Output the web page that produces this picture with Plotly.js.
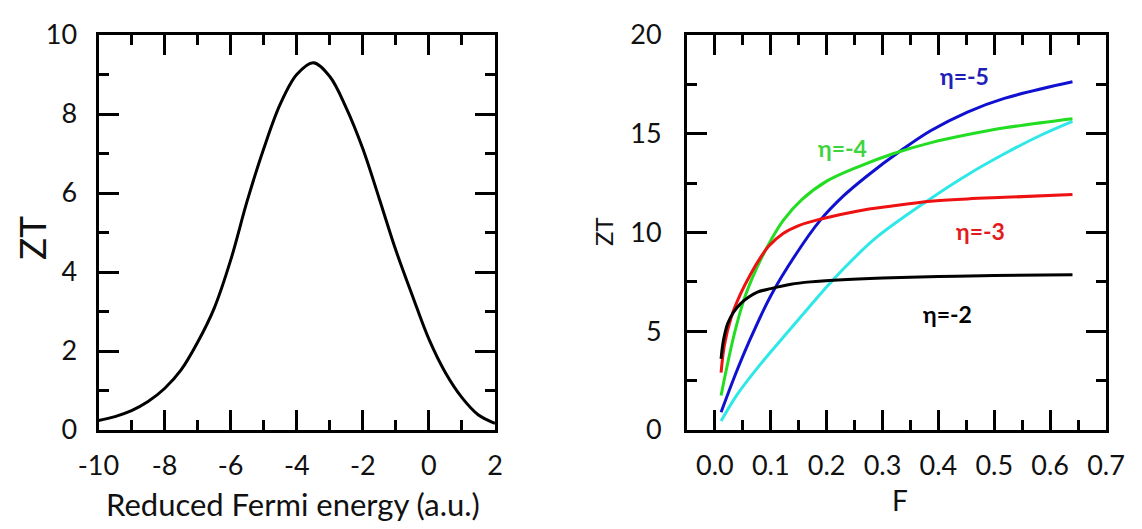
<!DOCTYPE html>
<html>
<head>
<meta charset="utf-8">
<script src="https://cdn.plot.ly/plotly-3.0.1.min.js"></script>
<style>
  html, body { margin: 0; padding: 0; background: #ffffff; }
  #chart { width: 1142px; height: 529px; }
</style>
</head>
<body>
<div id="chart"></div>
<script>
// ---- Left panel: ZT vs reduced Fermi energy ----
const fermiEnergy = [-10, -9.5, -9, -8.5, -8, -7.5, -7, -6.5, -6, -5.5, -5, -4.5, -4, -3.5, -3, -2.5, -2, -1.5, -1, -0.5, 0, 0.5, 1, 1.5, 2];
const ztFermi     = [0.24, 0.34, 0.49, 0.72, 1.05, 1.52, 2.22, 3.08, 4.3, 5.8, 7.12, 8.25, 9.0, 9.3, 8.95, 8.15, 7.12, 5.85, 4.55, 3.4, 2.3, 1.45, 0.82, 0.38, 0.17];
const fermiTickVals = [-10, -8, -6, -4, -2, 0, 2];
const fermiTickText = ["-10", "-8", "-6", "-4", "-2", "0", "2"];
const ztLeftTickVals = [0, 2, 4, 6, 8, 10];
const ztLeftTickText = ["0", "2", "4", "6", "8", "10"];

// ---- Right panel: ZT vs F for several eta ----
const etaLabels = ["η=-2", "η=-3", "η=-4", "η=-5"];

const fEtaM2  = [0.011, 0.015, 0.023, 0.033, 0.046, 0.06, 0.076, 0.1, 0.136, 0.171, 0.22, 0.3, 0.4, 0.5, 0.64];
const ztEtaM2 = [3.6, 4.5, 5.4, 5.95, 6.4, 6.72, 6.98, 7.16, 7.38, 7.5, 7.6, 7.7, 7.77, 7.82, 7.86];

const fEtaM3  = [0.011, 0.017, 0.029, 0.046, 0.064, 0.082, 0.096, 0.122, 0.15, 0.188, 0.254, 0.32, 0.386, 0.452, 0.518, 0.64];
const ztEtaM3 = [2.9, 4.3, 5.7, 6.9, 7.9, 8.75, 9.3, 9.95, 10.35, 10.67, 11.08, 11.35, 11.58, 11.7, 11.78, 11.92];

const fEtaM4  = [0.011, 0.02, 0.035, 0.052, 0.067, 0.085, 0.1, 0.122, 0.155, 0.2, 0.254, 0.32, 0.387, 0.453, 0.519, 0.64];
const ztEtaM4 = [1.75, 3.0, 4.9, 6.6, 7.7, 8.8, 9.6, 10.6, 11.65, 12.6, 13.3, 14.0, 14.55, 14.96, 15.3, 15.76];

const fEtaM5  = [0.011, 0.035, 0.06, 0.1, 0.145, 0.188, 0.23, 0.274, 0.333, 0.386, 0.452, 0.518, 0.64];
const ztEtaM5 = [0.9, 2.7, 4.4, 6.8, 8.9, 10.6, 11.85, 12.9, 14.15, 15.15, 16.1, 16.79, 17.63];

const fCyan   = [0.011, 0.04, 0.082, 0.13, 0.171, 0.205, 0.228, 0.287, 0.38, 0.453, 0.519, 0.585, 0.64];
const ztCyan  = [0.45, 1.8, 3.35, 4.95, 6.3, 7.4, 8.1, 9.7, 11.6, 12.94, 14.0, 14.95, 15.63];

const fTickVals = [0, 0.1, 0.2, 0.3, 0.4, 0.5, 0.6, 0.7];
const fTickText = ["0.0", "0.1", "0.2", "0.3", "0.4", "0.5", "0.6", "0.7"];
const ztRightTickVals = [0, 5, 10, 15, 20];
const ztRightTickText = ["0", "5", "10", "15", "20"];

const FONT = "Lato, 'Open Sans', sans-serif";
const W = 1142, H = 529;

function line(x, y, color, xa, ya) {
  return { x: x, y: y, xaxis: xa, yaxis: ya, type: "scatter", mode: "lines",
           line: { color: color, width: 3, shape: "spline", smoothing: 1 },
           hoverinfo: "skip", showlegend: false };
}

const traces = [
  line(fermiEnergy, ztFermi, "#000000", "x", "y"),
  line(fCyan, ztCyan, "#2ee8e8", "x2", "y2"),
  line(fEtaM5, ztEtaM5, "#1010d0", "x2", "y2"),
  line(fEtaM4, ztEtaM4, "#22dd22", "x2", "y2"),
  line(fEtaM3, ztEtaM3, "#ee1111", "x2", "y2"),
  line(fEtaM2, ztEtaM2, "#000000", "x2", "y2")
];

function axis(domain, range, tickvals, ticktext, minorDtick, extra) {
  return Object.assign({
    domain: domain, range: range, tickmode: "array", tickvals: tickvals, ticktext: ticktext,
    showline: true, linewidth: 3, linecolor: "#000", mirror: "allticks",
    ticks: "inside", ticklen: 20, tickwidth: 3, tickcolor: "#000",
    minor: { ticks: "inside", ticklen: 10, tickwidth: 3, tickcolor: "#000", dtick: minorDtick, tick0: 0 },
    showgrid: false, zeroline: false, fixedrange: true,
    tickfont: { family: FONT, size: 27, color: "#111" }
  }, extra || {});
}

const yDom = [(H - 430) / H, (H - 35) / H];

const layout = {
  width: W, height: H,
  margin: { l: 0, r: 0, t: 0, b: 0 },
  paper_bgcolor: "#ffffff", plot_bgcolor: "#ffffff",
  showlegend: false,
  xaxis:  axis([98.5 / W, 495 / W], [-10, 2], fermiTickVals, fermiTickText, 1, { anchor: "y", ticklabelstandoff: 10 }),
  yaxis:  axis(yDom, [0, 10], ztLeftTickVals, ztLeftTickText, 1, { anchor: "x", ticklabelstandoff: 13 }),
  xaxis2: axis([687 / W, 1106 / W], [-0.05, 0.7], fTickVals, fTickText, 0.05, { anchor: "y2", ticklabelstandoff: 10 }),
  yaxis2: axis(yDom, [0, 20], ztRightTickVals, ztRightTickText, 2.5, { anchor: "x2", ticklabelstandoff: 17 }),
  annotations: [
    { text: "ZT", xref: "paper", yref: "paper", x: 32 / W, y: (H - 238) / H, xanchor: "center", yanchor: "middle",
      textangle: -90, showarrow: false, font: { family: FONT, size: 37, color: "#111" } },
    { text: "Reduced Fermi energy (a.u.)", xref: "paper", yref: "paper", x: 293 / W, y: (H - 504) / H,
      xanchor: "center", yanchor: "middle", showarrow: false, font: { family: FONT, size: 31, color: "#111" } },
    { text: "ZT", xref: "paper", yref: "paper", x: 604 / W, y: (H - 232) / H, xanchor: "center", yanchor: "middle",
      textangle: -90, showarrow: false, font: { family: FONT, size: 24, color: "#111" } },
    { text: "F", xref: "paper", yref: "paper", x: 900 / W, y: (H - 500) / H, xanchor: "center", yanchor: "middle",
      showarrow: false, font: { family: FONT, size: 28, color: "#111" } },
    { text: "<b>" + etaLabels[3] + "</b>", xref: "x2", yref: "y2", x: 0.446, y: 17.9, showarrow: false,
      font: { family: FONT, size: 23, color: "#2020b8" } },
    { text: "<b>" + etaLabels[2] + "</b>", xref: "x2", yref: "y2", x: 0.228, y: 14.29, showarrow: false,
      font: { family: FONT, size: 23, color: "#3ed43e" } },
    { text: "<b>" + etaLabels[1] + "</b>", xref: "x2", yref: "y2", x: 0.476, y: 10.08, showarrow: false,
      font: { family: FONT, size: 23, color: "#e21c1c" } },
    { text: "<b>" + etaLabels[0] + "</b>", xref: "x2", yref: "y2", x: 0.416, y: 5.88, showarrow: false,
      font: { family: FONT, size: 23, color: "#000000" } }
  ]
};

Plotly.newPlot("chart", traces, layout, { staticPlot: true, displayModeBar: false });
</script>
</body>
</html>
